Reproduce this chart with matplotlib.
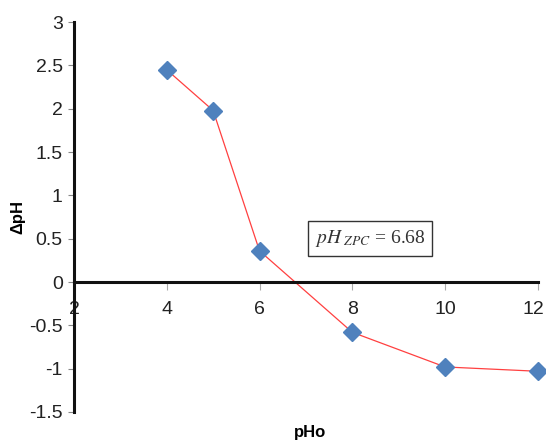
import numpy as np
import matplotlib
matplotlib.use("Agg")
import matplotlib.pyplot as plt
from matplotlib.transforms import ScaledTranslation

pho = [4, 5, 6, 8, 10, 12]
dph = [2.45, 1.98, 0.36, -0.58, -0.98, -1.03]
x_ticks = [2, 4, 6, 8, 10, 12]
y_ticks = [-1.5, -1, -0.5, 0, 0.5, 1, 1.5, 2, 2.5, 3]
y_tick_labels = ["-1.5", "-1", "-0.5", "0", "0.5", "1", "1.5", "2", "2.5", "3"]
pzc_text = r"$pH_{\ ZPC}$ = 6.68"

plt.rcParams['font.family'] = ['Liberation Sans', 'DejaVu Sans']
fig = plt.figure(figsize=(5.46, 4.43), dpi=100)
ax = fig.add_axes([0.1355, 0.070, 0.8495, 0.880])
ax.set_xlim(2, 12)
ax.set_ylim(-1.5, 3)

ax.plot(pho, dph, color='#FF4040', lw=0.9, zorder=2)
ax.plot(pho, dph, linestyle='none', marker='D', markersize=9.5,
        color='#4F81BD', markeredgecolor='#4F81BD', zorder=3, clip_on=False)

for s in ['top', 'right']:
    ax.spines[s].set_visible(False)
ax.spines['bottom'].set_position(('data', 0))
ax.spines['bottom'].set_linewidth(2.2)
ax.spines['bottom'].set_color('#111111')
ax.spines['left'].set_linewidth(2.2)
ax.spines['left'].set_color('#111111')

ax.set_xticks(x_ticks)
ax.set_xticklabels([str(v) for v in x_ticks])
ax.set_yticks(y_ticks)
ax.set_yticklabels(y_tick_labels)
ax.tick_params(axis='x', direction='out', length=6, width=0.8, color='#AAAAAA',
               labelsize=14, pad=8)
ax.tick_params(axis='y', direction='out', length=4, width=0.8, color='#888888',
               labelsize=14, pad=4)
for lab in ax.get_xticklabels() + ax.get_yticklabels():
    lab.set_color('#222222')
last = ax.get_xticklabels()[-1]
last.set_transform(last.get_transform() + ScaledTranslation(-4 / 100, 0, fig.dpi_scale_trans))

ax.set_ylabel('ΔpH', fontsize=12, fontweight='bold')
ax.yaxis.set_label_coords(-0.1057, 0.5)
fig.text(310 / 546, 1 - 432 / 443, 'pHo', fontsize=12, fontweight='bold',
         ha='center', va='center')

ax.text(8.38, 0.5, pzc_text, ha='center', va='center', fontsize=14,
        family='Liberation Serif', math_fontfamily='stix', color='#333333',
        bbox=dict(boxstyle='square,pad=0.35', facecolor='white',
                  edgecolor='#333333', linewidth=1.0), zorder=4)

fig.savefig('out.png', dpi=100)
